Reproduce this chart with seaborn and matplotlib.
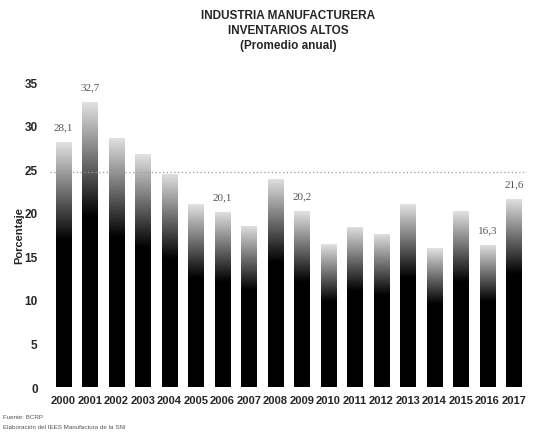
import numpy as np
import pandas as pd
import matplotlib
matplotlib.use('Agg')
import matplotlib.pyplot as plt
import seaborn as sns

sns.set_style('white')
plt.rcParams['font.family'] = ['Liberation Sans Narrow', 'Liberation Sans', 'DejaVu Sans']

years = ['2000', '2001', '2002', '2003', '2004', '2005', '2006', '2007', '2008',
         '2009', '2010', '2011', '2012', '2013', '2014', '2015', '2016', '2017']
values = [28.1, 32.7, 28.6, 26.7, 24.5, 21.0, 20.1, 18.5, 23.9,
          20.2, 16.4, 18.4, 17.6, 21.0, 15.9, 20.2, 16.3, 21.6]
labeled_years = ['2000', '2001', '2006', '2009', '2016', '2017']
promedio = 24.7
y_ticks = [0, 5, 10, 15, 20, 25, 30, 35]

df = pd.DataFrame({'anio': years, 'valor': values})

fig = plt.figure(figsize=(5.39, 4.35), dpi=100)
ax = fig.add_axes([0.093, 0.108, 0.885, 0.701])

sns.barplot(data=df, x='anio', y='valor', color='black', width=0.57,
            saturation=1, ax=ax)

# fade the top of each bar like the scanned original
grad = np.linspace(0, 1, 256)
alpha = np.clip(1 - (grad - 0.6) / 0.4 * 0.88, 0.12, 1.0)
rgba = np.zeros((256, 1, 4))
rgba[:, 0, 3] = alpha
for p in ax.patches:
    x0, w, h = p.get_x(), p.get_width(), p.get_height()
    p.set_alpha(0)
    im = ax.imshow(rgba, extent=[x0, x0 + w, 0, h], origin='lower',
                   aspect='auto', zorder=3, interpolation='bilinear')
    im.set_clip_path(p)

ax.axhline(promedio, color='#9a9a9a', linestyle=(0, (1, 2)), linewidth=0.9, zorder=4)

for i, (yr, v) in enumerate(zip(years, values)):
    if yr in labeled_years:
        ax.text(i, v + 1.2, f'{v:.1f}'.replace('.', ','), ha='center', va='bottom',
                fontsize=8, color='#555555', family=['Liberation Serif', 'DejaVu Serif'])

ax.set_xlim(-0.5, len(years) - 0.5)
ax.set_ylim(0, 35)
ax.set_yticks(y_ticks)
ax.set_yticklabels([str(t) for t in y_ticks], fontsize=8.5, fontweight='bold')
ax.tick_params(axis='x', labelsize=8, length=0, pad=6)
ax.tick_params(axis='y', length=0, pad=9)
for lab in ax.get_xticklabels():
    lab.set_fontweight('bold')
ax.set_xlabel('')
ax.set_ylabel('Porcentaje', fontsize=8, fontweight='bold', labelpad=0)
sns.despine(ax=ax, left=True, bottom=True)
ax.set_xlim(-0.5, len(years) - 0.5)

fig.text(0.535, 0.964, 'INDUSTRIA MANUFACTURERA', ha='center', va='center',
         fontsize=8.5, fontweight='bold')
fig.text(0.535, 0.929, 'INVENTARIOS ALTOS', ha='center', va='center',
         fontsize=8.5, fontweight='bold')
fig.text(0.535, 0.894, '(Promedio anual)', ha='center', va='center',
         fontsize=8.5, fontweight='bold')

fig.text(0.006, 0.04, 'Fuente: BCRP', fontsize=4.5, color='#555555', va='center')
fig.text(0.006, 0.018, 'Elaboración del IEES Manufactura de la SNI', fontsize=4.5,
         color='#555555', va='center')

fig.savefig('out.png', dpi=100)
